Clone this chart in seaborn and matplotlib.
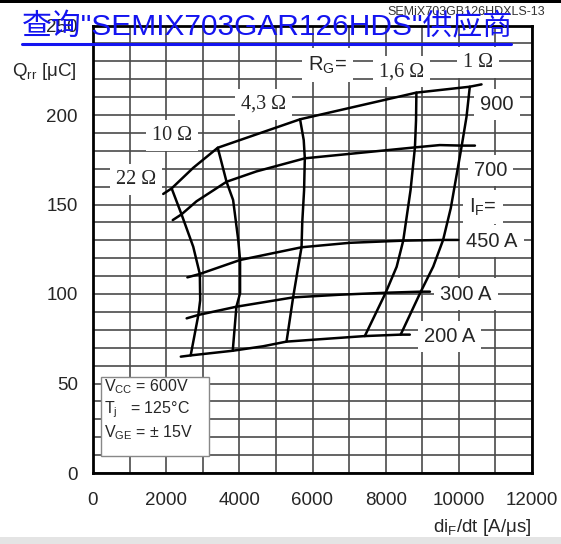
import matplotlib
matplotlib.use("Agg")
import matplotlib.pyplot as plt
from matplotlib.patches import Rectangle
from matplotlib.lines import Line2D
from matplotlib.ticker import MultipleLocator
import seaborn as sns

# Reverse recovery charge vs. diF/dt, one curve per forward current
if900_didt = [1920, 2150, 2740, 3410, 5660, 8840, 10300, 10620]
if900_qrr = [155.9, 159.0, 170.5, 181.7, 197.6, 212.5, 215.8, 217.1]
if700_didt = [2180, 2420, 2830, 3650, 4470, 5790, 8800, 9480, 10080, 10440]
if700_qrr = [141.3, 144.5, 151.8, 162.7, 168.5, 175.8, 181.9, 183.2, 182.9, 182.9]
if450_didt = [2580, 2920, 4020, 5700, 7020, 8480, 9570, 9980]
if450_qrr = [109.3, 111.2, 119.0, 126.1, 128.6, 129.8, 130.2, 130.2]
if300_didt = [2560, 2880, 3920, 5470, 6750, 8000, 8960, 9210]
if300_qrr = [86.4, 88.3, 92.9, 98.1, 99.6, 100.7, 101.3, 101.3]
if200_didt = [2400, 2670, 3820, 4650, 5290, 7430, 8410, 8660]
if200_qrr = [65.0, 65.7, 68.3, 70.8, 73.4, 76.5, 77.3, 77.3]

# Gate resistance curves crossing the current curves
rg22_didt = [2150, 2420, 2740, 2920, 2930, 2880, 2670]
rg22_qrr = [159.0, 144.5, 126.4, 111.2, 96.6, 88.3, 65.7]
rg10_didt = [3410, 3650, 3830, 3970, 4020, 4020, 3920, 3820]
rg10_qrr = [181.7, 162.7, 152.5, 130.2, 119.0, 100.4, 92.9, 68.3]
rg43_didt = [5660, 5760, 5790, 5770, 5720, 5700, 5580, 5470, 5290]
rg43_qrr = [197.6, 186.0, 175.8, 158.0, 140.0, 126.1, 111.6, 98.1, 73.4]
rg16_didt = [8840, 8830, 8800, 8680, 8480, 8300, 8000, 7430]
rg16_qrr = [212.5, 197.0, 181.9, 158.0, 129.8, 115.2, 100.7, 76.5]
rg1_didt = [10300, 10210, 10080, 9780, 9570, 9300, 8960, 8410]
rg1_qrr = [215.8, 199.0, 182.9, 148.0, 130.2, 115.3, 101.3, 77.3]

x_ticks = [0, 2000, 4000, 6000, 8000, 10000, 12000]
y_ticks = [0, 50, 100, 150, 200, 250]

if_labels = ["900", "700", "I$_{\\rm F}$=", "450 A", "300 A", "200 A"]
if_label_x = [11040, 10870, 10660, 10910, 10200, 9750]
if_label_y = [206.0, 169.0, 148.6, 129.6, 100.0, 76.3]

rg_labels = ["R$_{\\rm G}$=", "1,6 Ω", "1 Ω", "4,3 Ω", "10 Ω", "22 Ω"]
rg_label_x = [6400, 8430, 10520, 4650, 2170, 1170]
rg_label_y = [228.0, 224.2, 229.3, 206.0, 188.4, 164.1]

conditions = ["V$_{\\rm CC}$ = 600V", "T$_{\\rm j}$   = 125°C", "V$_{\\rm GE}$ = ± 15V"]

sns.set_style("white")
plt.rcParams["font.family"] = ["Liberation Sans", "DejaVu Sans"]
plt.rcParams["mathtext.fontset"] = "custom"
plt.rcParams["mathtext.rm"] = "Liberation Sans"
plt.rcParams["mathtext.it"] = "Liberation Sans:italic"
plt.rcParams["mathtext.bf"] = "Liberation Sans:bold"

W, H = 561, 544
fig = plt.figure(figsize=(W / 100, H / 100), dpi=100)
fig.patch.set_facecolor("white")
ax = fig.add_axes([93 / W, 71 / H, 439 / W, 447.5 / H])

ax.set_xlim(0, 12000)
ax.set_ylim(0, 250)
ax.set_xticks(x_ticks)
ax.set_yticks(y_ticks)
ax.xaxis.set_minor_locator(MultipleLocator(1000))
ax.yaxis.set_minor_locator(MultipleLocator(10))
ax.grid(which="both", color="#4a4a4a", linewidth=1.2, zorder=0)
ax.set_axisbelow(True)
ax.tick_params(which="both", length=0)
ax.tick_params(axis="x", labelsize=13.5, pad=14)
ax.tick_params(axis="y", labelsize=13.5, pad=11)
for s in ax.spines.values():
    s.set_color("black")
    s.set_linewidth(2.0)

curves = [
    (if900_didt, if900_qrr), (if700_didt, if700_qrr), (if450_didt, if450_qrr),
    (if300_didt, if300_qrr), (if200_didt, if200_qrr),
    (rg22_didt, rg22_qrr), (rg10_didt, rg10_qrr), (rg43_didt, rg43_qrr),
    (rg16_didt, rg16_qrr), (rg1_didt, rg1_qrr),
]
for xs, ys in curves:
    sns.lineplot(x=xs, y=ys, sort=False, estimator=None, color="black",
                 linewidth=1.8, ax=ax, zorder=3)

box = dict(boxstyle="square,pad=0.3", fc="white", ec="none")
for t, x, y in zip(if_labels, if_label_x, if_label_y):
    ax.text(x, y, t, fontsize=14.5, ha="center", va="center", bbox=box, zorder=4)
for i, (t, x, y) in enumerate(zip(rg_labels, rg_label_x, rg_label_y)):
    fam = ["Liberation Sans"] if i == 0 else ["Liberation Serif"]
    ax.text(x, y, t, fontsize=14.5, ha="center", va="center", family=fam,
            bbox=box, zorder=4)

# test conditions box
ax.add_patch(Rectangle((220, 9.5), 2950, 44, facecolor="white",
                       edgecolor="#888888", linewidth=1.0, zorder=4))
for i, t in enumerate(conditions):
    ax.text(300, 48.5 - i * 12.9, t, fontsize=11.5, ha="left", va="center", zorder=5)

ax.set_xlabel("")
ax.set_ylabel("")
fig.text(77 / W, 1 - 71 / H, "Q$_{\\rm rr}$ [μC]", fontsize=13.5, ha="right", va="center")
fig.text(531 / W, 1 - 527 / H, "di$_{\\rm F}$/dt [A/μs]", fontsize=13.5, ha="right", va="center")

# header strip and footer band
fig.patches.append(Rectangle((0, 1 - 3 / H), 1, 3 / H, transform=fig.transFigure,
                             facecolor="black", edgecolor="none", zorder=5))
fig.patches.append(Rectangle((0, 0), 1, 7 / H, transform=fig.transFigure,
                             facecolor="#e4e4e4", edgecolor="none", zorder=5))

fig.text(545 / W, 1 - 12 / H, "SEMiX703GB126HDXLS-13", fontsize=9, color="#333333",
         ha="right", va="center", zorder=6)
fig.text(22 / W, 1 - 35 / H, "查询\"SEMIX703GAR126HDS\"供应商", fontsize=21.5,
         color="#1414f0", ha="left", va="baseline",
         family=["Liberation Sans", "Noto Sans CJK SC"], zorder=10)
fig.lines.append(Line2D([22 / W, 511 / W], [1 - 44 / H, 1 - 44 / H],
                        transform=fig.transFigure, color="#1414f0", linewidth=2.2, zorder=10))

fig.savefig("out.png", dpi=100)
